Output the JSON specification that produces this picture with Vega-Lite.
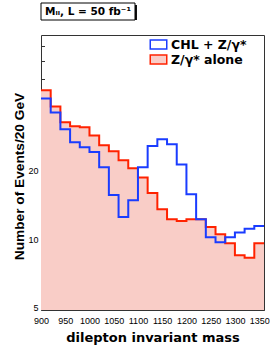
{
  "$schema": "https://vega.github.io/schema/vega-lite/v6.json",
  "padding": {"left": 2, "top": 2, "right": 0, "bottom": 0},
  "background": "white",
  "columns": 1,
  "align": "none",
  "spacing": 13,
  "resolve": {"scale": {"fill": "independent", "stroke": "independent"}, "legend": {"fill": "independent", "stroke": "independent"}},
  "config": {
    "view": {"stroke": null},
    "font": "DejaVu Sans",
    "legend": {
      "orient": "none",
      "legendX": 111,
      "legendY": 3,
      "symbolType": "M-1.5,-0.8H1.5V0.8H-1.5Z",
      "symbolSize": 121,
      "symbolStrokeWidth": 1.5,
      "labelFont": "DejaVu Sans",
      "labelFontWeight": "bold",
      "labelFontSize": 12.5,
      "labelColor": "black",
      "rowPadding": 0,
      "labelOffset": 6,
      "padding": 0
    }
  },
  "concat": [
    {
      "width": 94,
      "height": 17,
      "data": {"values": [{"label": "Mₗₗ, L = 50 fb⁻¹"}]},
      "layer": [
        {"mark": {"type": "rect", "color": "#111", "xOffset": 2, "yOffset": 2}, "encoding": {}},
        {"mark": {"type": "rect", "fill": "white", "stroke": "black", "strokeWidth": 1}, "encoding": {}},
        {
          "mark": {"type": "text", "font": "DejaVu Sans", "fontWeight": "bold", "fontSize": 10.5, "align": "center", "baseline": "middle", "color": "black"},
          "encoding": {"text": {"field": "label"}}
        }
      ]
    },
    {
      "width": 223,
      "height": 275,
      "view": {"stroke": "#333", "strokeWidth": 1},
      "data": {"values": [
        {"m": 900, "s": "Z/γ* alone", "n": 44.7},
        {"m": 920, "s": "Z/γ* alone", "n": 38.0},
        {"m": 940, "s": "Z/γ* alone", "n": 32.4},
        {"m": 960, "s": "Z/γ* alone", "n": 31.1},
        {"m": 980, "s": "Z/γ* alone", "n": 30.8},
        {"m": 1000, "s": "Z/γ* alone", "n": 28.4},
        {"m": 1020, "s": "Z/γ* alone", "n": 25.7},
        {"m": 1040, "s": "Z/γ* alone", "n": 24.2},
        {"m": 1060, "s": "Z/γ* alone", "n": 22.1},
        {"m": 1080, "s": "Z/γ* alone", "n": 20.4},
        {"m": 1100, "s": "Z/γ* alone", "n": 18.6},
        {"m": 1120, "s": "Z/γ* alone", "n": 15.9},
        {"m": 1140, "s": "Z/γ* alone", "n": 13.5},
        {"m": 1160, "s": "Z/γ* alone", "n": 12.2},
        {"m": 1180, "s": "Z/γ* alone", "n": 12.0},
        {"m": 1200, "s": "Z/γ* alone", "n": 12.2},
        {"m": 1220, "s": "Z/γ* alone", "n": 12.2},
        {"m": 1240, "s": "Z/γ* alone", "n": 11.3},
        {"m": 1260, "s": "Z/γ* alone", "n": 10.5},
        {"m": 1280, "s": "Z/γ* alone", "n": 9.6},
        {"m": 1300, "s": "Z/γ* alone", "n": 8.5},
        {"m": 1320, "s": "Z/γ* alone", "n": 8.3},
        {"m": 1340, "s": "Z/γ* alone", "n": 9.6},
        {"m": 1360, "s": "Z/γ* alone", "n": 9.6},
        {"m": 900, "s": "CHL + Z/γ*", "n": 41.2},
        {"m": 920, "s": "CHL + Z/γ*", "n": 35.8},
        {"m": 940, "s": "CHL + Z/γ*", "n": 30.2},
        {"m": 960, "s": "CHL + Z/γ*", "n": 26.5},
        {"m": 980, "s": "CHL + Z/γ*", "n": 25.2},
        {"m": 1000, "s": "CHL + Z/γ*", "n": 24.0},
        {"m": 1020, "s": "CHL + Z/γ*", "n": 20.6},
        {"m": 1040, "s": "CHL + Z/γ*", "n": 15.6},
        {"m": 1060, "s": "CHL + Z/γ*", "n": 12.5},
        {"m": 1080, "s": "CHL + Z/γ*", "n": 14.8},
        {"m": 1100, "s": "CHL + Z/γ*", "n": 20.6},
        {"m": 1120, "s": "CHL + Z/γ*", "n": 25.5},
        {"m": 1140, "s": "CHL + Z/γ*", "n": 27.3},
        {"m": 1160, "s": "CHL + Z/γ*", "n": 26.0},
        {"m": 1180, "s": "CHL + Z/γ*", "n": 21.2},
        {"m": 1200, "s": "CHL + Z/γ*", "n": 15.7},
        {"m": 1220, "s": "CHL + Z/γ*", "n": 12.2},
        {"m": 1240, "s": "CHL + Z/γ*", "n": 10.2},
        {"m": 1260, "s": "CHL + Z/γ*", "n": 9.7},
        {"m": 1280, "s": "CHL + Z/γ*", "n": 10.2},
        {"m": 1300, "s": "CHL + Z/γ*", "n": 10.7},
        {"m": 1320, "s": "CHL + Z/γ*", "n": 11.1},
        {"m": 1340, "s": "CHL + Z/γ*", "n": 11.4},
        {"m": 1360, "s": "CHL + Z/γ*", "n": 11.4}
      ]},
      "encoding": {
        "x": {
          "field": "m", "type": "quantitative",
          "scale": {"domain": [900, 1360], "nice": false, "zero": false},
          "axis": {
            "title": "dilepton invariant mass",
            "titleFont": "DejaVu Sans", "titleFontWeight": "bold", "titleFontSize": 13, "titleColor": "black", "titlePadding": 3,
            "values": [900,910,920,930,940,950,960,970,980,990,1000,1010,1020,1030,1040,1050,1060,1070,1080,1090,1100,1110,1120,1130,1140,1150,1160,1170,1180,1190,1200,1210,1220,1230,1240,1250,1260,1270,1280,1290,1300,1310,1320,1330,1340,1350,1360],
            "format": "d",
            "labelExpr": "datum.value % 50 == 0 ? datum.label : ''",
            "labelFont": "Liberation Sans", "labelFontSize": 9, "labelColor": "black", "labelPadding": 13,
            "labelOverlap": false, "labelFlush": false, "labelBound": false,
            "tickSize": {"condition": {"test": "datum.value % 50 == 0", "value": -7}, "value": -3.5},
            "tickColor": "#333", "domain": false, "grid": false
          }
        },
        "y": {
          "field": "n", "type": "quantitative", "stack": null,
          "scale": {"type": "log", "domain": [4.9, 78], "nice": false},
          "axis": {
            "title": "Number of Events/20 GeV",
            "titleFont": "Liberation Sans", "titleFontWeight": "bold", "titleFontSize": 13.7, "titleColor": "black",
            "titleX": -15, "titleY": 141,
            "minExtent": 38,
            "values": [5,6,7,8,9,10,20,30,40,50,60,70],
            "format": "d",
            "labelExpr": "datum.value == 5 || datum.value == 10 || datum.value == 20 ? datum.label : ''",
            "labelFont": "Liberation Sans", "labelFontSize": 9, "labelColor": "black", "labelPadding": 10,
            "labelOverlap": false, "labelFlush": false, "labelBound": false,
            "tickSize": {"condition": {"test": "datum.value == 5 || datum.value == 10 || datum.value == 20", "value": -7}, "value": -3.5},
            "tickColor": "#333", "domain": false, "grid": false
          }
        }
      },
      "layer": [
        {
          "mark": {"type": "area", "interpolate": "step-after", "clip": true},
          "encoding": {
            "fill": {"field": "s", "type": "nominal", "title": null,
              "scale": {"domain": ["CHL + Z/γ*", "Z/γ* alone"], "range": ["rgba(255,255,255,0)", "#f9cdc7"]}}
          }
        },
        {
          "mark": {"type": "line", "interpolate": "step-after", "strokeWidth": 2, "clip": true},
          "encoding": {
            "stroke": {"field": "s", "type": "nominal", "title": null,
              "scale": {"domain": ["CHL + Z/γ*", "Z/γ* alone"], "range": ["#1a3cff", "#ff2200"]}}
          }
        }
      ]
    }
  ]
}
